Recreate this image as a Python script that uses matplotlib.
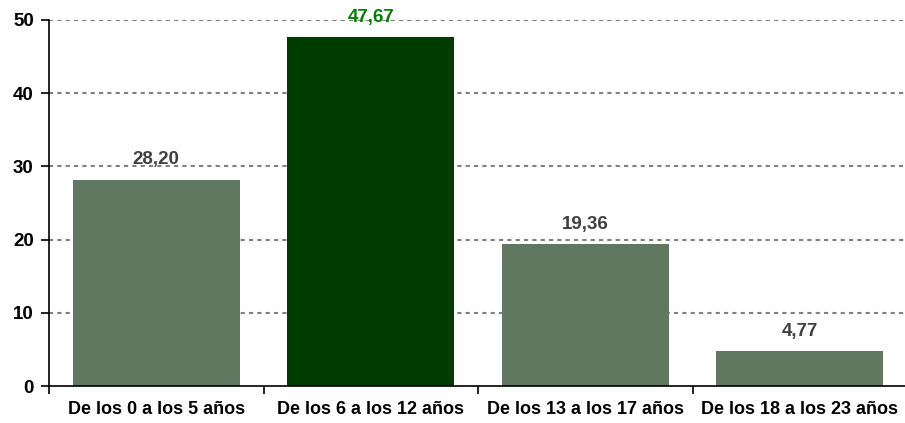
import matplotlib.pyplot as plt
import numpy as np

plt.rcParams['font.family'] = ['Liberation Sans', 'DejaVu Sans']

# Datos
categorias = ["De los 0 a los 5 años", "De los 6 a los 12 años",
              "De los 13 a los 17 años", "De los 18 a los 23 años"]
valores = [28.20, 47.67, 19.36, 4.77]
destacado = 1  # barra resaltada

color_normal = "#607860"
color_destacado = "#003C00"

fig = plt.figure(figsize=(9.05, 4.23), dpi=100)
ax = fig.add_axes([49 / 905, 1 - 386 / 423, 858 / 905, 366 / 423])

x = np.arange(len(categorias))
colores = [color_destacado if i == destacado else color_normal for i in range(len(valores))]
ax.bar(x, valores, width=0.777, color=colores, zorder=2)

# Etiquetas de valores
for i, v in enumerate(valores):
    col = "#008000" if i == destacado else "#404040"
    ax.annotate(f"{v:.2f}".replace(".", ","), (x[i], v), xytext=(0, 8),
                textcoords="offset points", ha="center", va="bottom",
                fontsize=13.5, fontweight="bold", color=col, zorder=3)

ax.set_xlim(-0.5, len(categorias) - 0.5)
ax.set_ylim(0, 50)
ax.set_yticks(range(0, 51, 10))

# Ticks mayores en los limites, etiquetas en el centro
ax.set_xticks(np.arange(-0.5, len(categorias), 1.0))
ax.set_xticklabels([])
ax.set_xticks(x, minor=True)
ax.set_xticklabels(categorias, minor=True)
ax.tick_params(axis="x", which="major", length=6, width=1.2, direction="out")
ax.tick_params(axis="x", which="minor", length=0, pad=11, labelsize=13)
ax.tick_params(axis="y", length=6, width=1.2, labelsize=13.5, pad=5)
for lab in ax.get_xticklabels(minor=True) + ax.get_yticklabels():
    lab.set_fontweight("bold")

# Lineas de cuadricula
for yv in range(10, 51, 10):
    ax.axhline(yv, color="#808080", linestyle=(0, (2, 2)), linewidth=1.5, zorder=1)

ax.spines["top"].set_visible(False)
ax.spines["right"].set_visible(False)
ax.spines["left"].set_linewidth(1.2)
ax.spines["bottom"].set_linewidth(1.2)

fig.savefig("out.png", dpi=100)
